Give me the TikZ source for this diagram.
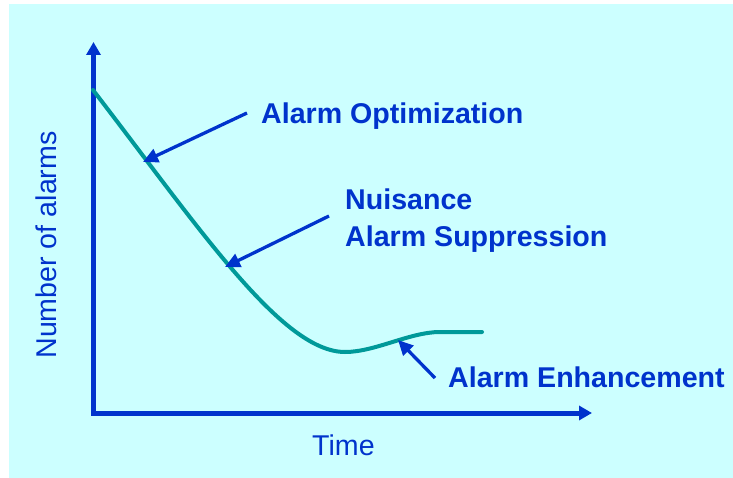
\documentclass[tikz,border=0pt]{standalone}
\usepackage{fontspec}
\setmainfont{Liberation Sans}
\usetikzlibrary{arrows.meta}
\definecolor{bgcyan}{HTML}{CCFFFF}
\definecolor{axblue}{HTML}{0033CC}
\definecolor{curveteal}{HTML}{009999}
\begin{document}
\begin{tikzpicture}[x=1pt,y=-1pt,
  lbl/.style={text=axblue,font=\fontsize{28.6}{36}\selectfont\bfseries,anchor=base west,inner sep=0pt},
  axlbl/.style={text=axblue,font=\fontsize{28.6}{36}\selectfont,inner sep=0pt},
  axis/.style={draw=axblue,line width=5pt,-{Triangle[length=13pt,width=14pt]}},
  pointer/.style={draw=axblue,line width=3.3pt,-{Triangle[length=15pt,width=14pt]}},
  curve/.style={draw=curveteal,line width=4pt,line cap=round}]
\useasboundingbox (0,0) rectangle (733,478);
\fill[bgcyan] (9,4) rectangle (745,490);
% axes
\coordinate (origin) at (93.5,413);
\coordinate (ytop) at (93.5,42);
\coordinate (xend) at (592,413);
\draw[axis] ([yshift=2.5pt]origin) -- (ytop);
\draw[axis] ([xshift=-2.5pt]origin) -- (xend);
% curve
\coordinate (c0) at (93,90);
\coordinate (cmin) at (345,352);
\coordinate (cflat) at (440,332);
\coordinate (cend) at (482,332);
\draw[curve] (c0) .. controls (200,229) and (282,352) .. (cmin)
  .. controls (375,352) and (410,332) .. (cflat) -- (cend);
% labels
\node[axlbl,rotate=90] (ylab) at (46,245) {Number of alarms};
\node[axlbl,anchor=base west] (xlab) at (312,455) {Time};
\node[lbl] (opt) at (261,124) {Alarm Optimization};
\node[lbl] (nui1) at (345,210) {Nuisance};
\node[lbl] (nui2) at (345,247) {Alarm Suppression};
\node[lbl] (enh) at (448,387) {Alarm Enhancement};
% pointers
\coordinate (optTail) at (247,113);
\coordinate (optTip) at (143,162);
\coordinate (nuiTail) at (329,216);
\coordinate (nuiTip) at (225,267);
\coordinate (enhTail) at (435,378);
\coordinate (enhTip) at (398,340);
\draw[pointer] (optTail) -- (optTip);
\draw[pointer] (nuiTail) -- (nuiTip);
\draw[pointer] (enhTail) -- (enhTip);
\end{tikzpicture}
\end{document}
